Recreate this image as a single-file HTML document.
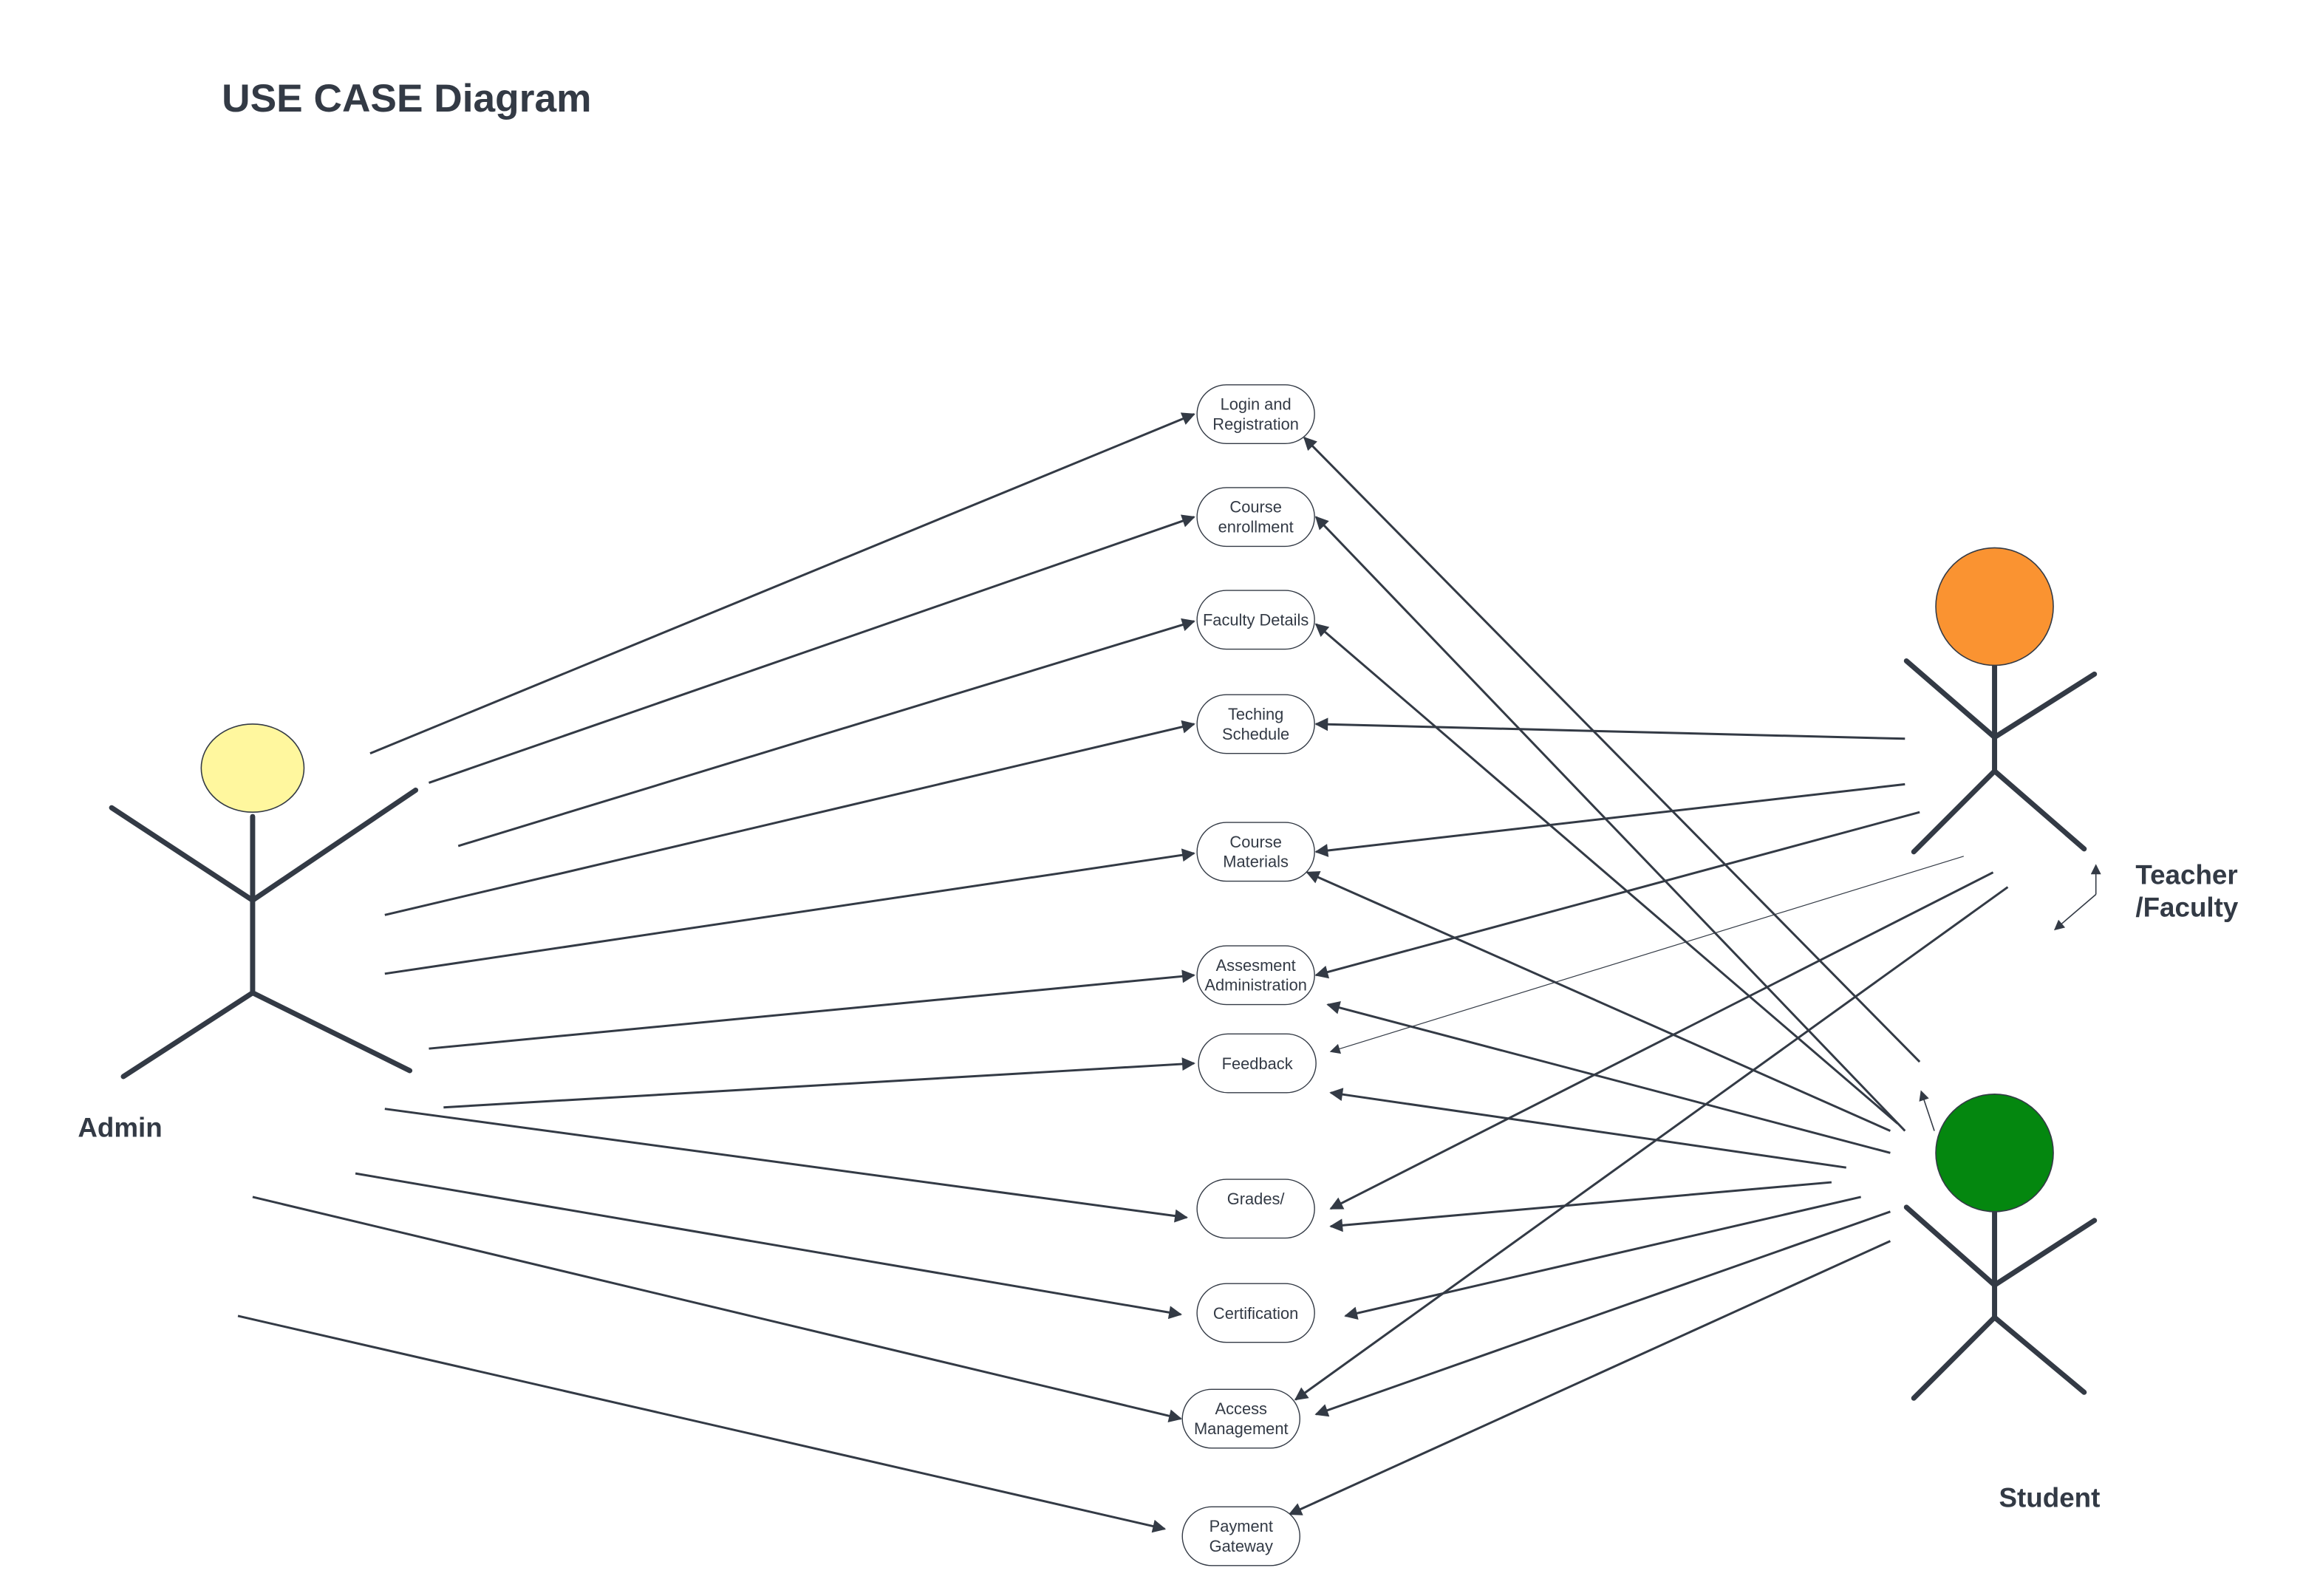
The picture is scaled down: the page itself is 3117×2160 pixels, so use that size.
<!DOCTYPE html>
<html><head><meta charset="utf-8"><style>
html,body{margin:0;padding:0;background:#fff;}
svg{display:block;}
text{font-family:"Liberation Sans",Arial,sans-serif;fill:#333a45;}
</style></head><body>
<svg id="d" width="3117" height="2160" viewBox="0 0 1568 1086.7" preserveAspectRatio="none" xmlns="http://www.w3.org/2000/svg">
<defs>
<marker id="ah" viewBox="0 0 10 10" refX="9" refY="5" markerWidth="10" markerHeight="9" orient="auto" markerUnits="userSpaceOnUse"><path d="M0,0L10,5L0,10z" fill="#333a45"/></marker>
<marker id="ahs" viewBox="0 0 10 10" refX="9" refY="5" markerWidth="8" markerHeight="7" orient="auto" markerUnits="userSpaceOnUse"><path d="M0,0L10,5L0,10z" fill="#333a45"/></marker>
</defs>
<text x="151" y="76" font-size="26.8" font-weight="bold">USE CASE Diagram</text>
<g id="links"></g>
<g id="cases"></g>
<g stroke="#333a45" stroke-width="3.5" fill="none" stroke-linecap="round">
<ellipse cx="172" cy="523" rx="35" ry="30" fill="#fff79e" stroke-width="0.8"/>
<line x1="172" y1="556" x2="172" y2="676"/>
<polyline points="76,550 172,613 283,538"/>
<polyline points="84,733 172,676 279,729"/>
</g>
<text x="53" y="774" font-size="18.5" font-weight="bold">Admin</text>
<g stroke="#333a45" stroke-width="3.5" fill="none" stroke-linecap="round">
<line x1="1358" y1="453" x2="1358" y2="525"/>
<polyline points="1298,450 1358,502 1426,459"/>
<polyline points="1303,580 1358,525 1419,578"/>
<circle cx="1358" cy="413" r="40" fill="#fa9331" stroke-width="0.8"/>
</g>
<text font-size="18.5" font-weight="bold"><tspan x="1454" y="602">Teacher</tspan><tspan x="1454" y="624">/Faculty</tspan></text>
<g stroke="#333a45" stroke-width="0.8">
<line x1="1427" y1="609" x2="1427" y2="589" marker-end="url(#ahs)"/>
<line x1="1427" y1="609" x2="1399" y2="633" marker-end="url(#ahs)"/>
<line x1="1317" y1="770" x2="1308" y2="743" marker-end="url(#ahs)"/>
</g>
<g stroke="#333a45" stroke-width="3.5" fill="none" stroke-linecap="round">
<line x1="1358" y1="825" x2="1358" y2="897"/>
<polyline points="1298,822 1358,875 1426,831"/>
<polyline points="1303,952 1358,897 1419,948"/>
<circle cx="1358" cy="785" r="40" fill="#04870f" stroke-width="0.8"/>
</g>
<text x="1361" y="1026" font-size="18.5" font-weight="bold">Student</text>
</svg>
<script>
const caseNames=["Login and|Registration","Course|enrollment","Faculty Details","Teching|Schedule","Course|Materials","Assesment|Administration","Feedback","Grades/","Certification","Access|Management","Payment|Gateway"];
const caseX=[855,855,855,855,855,855,856,855,855,845,845];
const caseY=[282,352,422,493,580,664,724,823,894,966,1046];
const links=[
[252,513,813,282,1.5],[292,533,813,352,1.5],[312,576,813,423,1.5],[262,623,813,493,1.5],[262,663,813,581,1.5],[292,714,813,664,1.5],[302,754,813,724,1.5],[262,755,808,829,1.5],[242,799,804,895,1.5],[172,815,804,966,1.5],[162,896,793,1041,1.5],
[1297,503,896,493,1.5],[1297,534,896,580,1.5],[1307,553,896,664,1.5],[1337,583,906,716,0.6],[1357,594,906,823,1.5],[1367,604,882,953,1.5],
[1307,723,888,298,1.5],[1297,770,896,352,1.5],[1292,765,896,425,1.5],[1287,770,890,594,1.5],[1287,785,904,684,1.5],[1257,795,906,744,1.5],[1247,805,906,835,1.5],[1267,815,916,896,1.5],[1287,825,896,963,1.5],[1287,845,878,1031,1.5]];
const NS="http://www.w3.org/2000/svg";
const lg=document.getElementById('links');
links.forEach(function(l){
const e=document.createElementNS(NS,'line');
e.setAttribute('x1',l[0]);e.setAttribute('y1',l[1]);e.setAttribute('x2',l[2]);e.setAttribute('y2',l[3]);
e.setAttribute('stroke','#333a45');e.setAttribute('stroke-width',l[4]);e.setAttribute('marker-end',l[4]<1?'url(#ahs)':'url(#ah)');


lg.appendChild(e);
});
const cg=document.getElementById('cases');
caseNames.forEach(function(n,i){
const g=document.createElementNS(NS,'g');


const r=document.createElementNS(NS,'rect');
r.setAttribute('x',caseX[i]-40);r.setAttribute('y',caseY[i]-20);r.setAttribute('width',80);r.setAttribute('height',40);
r.setAttribute('rx',20);r.setAttribute('fill','#fff');r.setAttribute('stroke','#333a45');r.setAttribute('stroke-width',0.7);
g.appendChild(r);
const parts=n.split('|');
const t=document.createElementNS(NS,'text');
t.setAttribute('text-anchor','middle');t.setAttribute('font-size','11');
parts.forEach(function(p,j){
const s=document.createElementNS(NS,'tspan');
s.setAttribute('x',caseX[i]);
let y=parts.length===2?caseY[i]-3+j*13.5:caseY[i]+4;
if(n==="Grades/")y=caseY[i]-3;
s.setAttribute('y',y);
s.textContent=p;t.appendChild(s);
});
g.appendChild(t);cg.appendChild(g);
});
</script>
</body></html>
